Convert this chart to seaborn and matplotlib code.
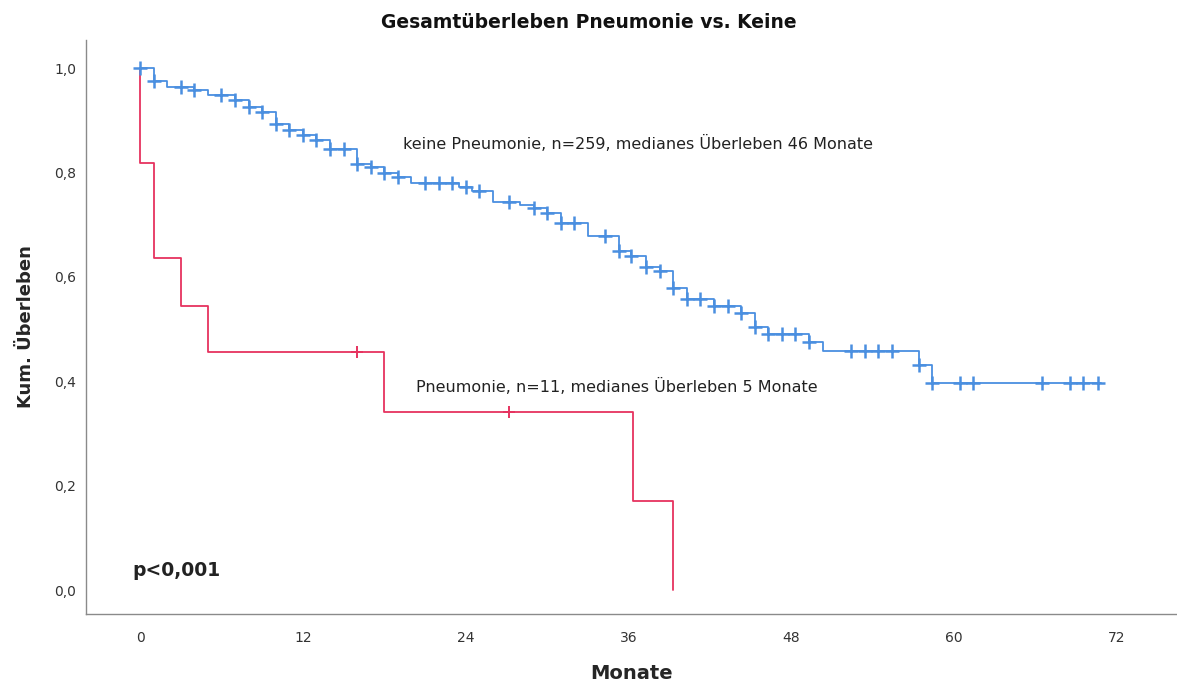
import numpy as np
import pandas as pd
import matplotlib
matplotlib.use("Agg")
import matplotlib.pyplot as plt
import seaborn as sns

# Kaplan-Meier step functions (months, cumulative survival after each step)
keine_zeit = [0.0, 1.0, 2.0, 4.0, 5.0, 7.0, 8.0, 9.0, 10.0, 11.0, 12.0, 13.0, 14.0,
              16.0, 17.0, 18.0, 19.0, 20.0, 23.5, 24.5, 26.0, 28.0, 29.0, 30.0,
              31.0, 33.0, 35.3, 36.2, 37.3, 38.3, 39.3, 40.3, 42.3, 44.3, 45.3,
              46.3, 49.3, 50.3, 57.4, 58.4, 70.8]
keine_surv = [1.000, 0.976, 0.963, 0.958, 0.948, 0.939, 0.925, 0.915, 0.893, 0.881,
              0.872, 0.862, 0.845, 0.817, 0.811, 0.798, 0.792, 0.779, 0.772, 0.765,
              0.744, 0.738, 0.731, 0.723, 0.704, 0.678, 0.650, 0.640, 0.619, 0.612,
              0.578, 0.557, 0.544, 0.531, 0.504, 0.490, 0.475, 0.457, 0.431, 0.397,
              0.397]
keine_zensiert = [0, 1, 3, 4, 6, 7, 8, 9, 10, 11, 12, 13, 14, 15, 16, 17, 18, 19, 21,
                  22, 23, 24, 25, 27.2, 29, 30, 31, 32, 34.3, 35.3, 36.2, 37.3, 38.3,
                  39.3, 40.3, 41.3, 42.3, 43.3, 44.3, 45.3, 46.3, 47.3, 48.3, 49.3,
                  52.4, 53.4, 54.4, 55.4, 57.4, 58.4, 60.4, 61.4, 66.5, 68.5, 69.5,
                  70.6]

pneu_zeit = [0.0, 0.0, 1.0, 3.0, 5.0, 18.0, 36.3, 39.3]
pneu_surv = [1.000, 0.818, 0.636, 0.545, 0.455, 0.341, 0.171, 0.000]
pneu_zensiert = [16.0, 27.2]

x_ticks = [0, 12, 24, 36, 48, 60, 72]
y_ticks = [0.0, 0.2, 0.4, 0.6, 0.8, 1.0]

BLAU = "#4A8FE0"
ROT = "#E6335F"


def surv_at(zeit, surv, t):
    idx = np.searchsorted(np.asarray(zeit), t, side="right") - 1
    return np.asarray(surv)[idx]


kurven = pd.concat([
    pd.DataFrame({"Monate": keine_zeit, "Surv": keine_surv, "Gruppe": "keine"}),
    pd.DataFrame({"Monate": pneu_zeit, "Surv": pneu_surv, "Gruppe": "pneu"}),
], ignore_index=True)

zensur = pd.concat([
    pd.DataFrame({"Monate": keine_zensiert,
                  "Surv": [surv_at(keine_zeit, keine_surv, t) for t in keine_zensiert],
                  "Gruppe": "keine"}),
    pd.DataFrame({"Monate": pneu_zensiert,
                  "Surv": [surv_at(pneu_zeit, pneu_surv, t) for t in pneu_zensiert],
                  "Gruppe": "pneu"}),
], ignore_index=True)

sns.set_theme(style="white")
plt.rcParams["font.family"] = ["DejaVu Sans"]

fig = plt.figure(figsize=(11.77, 6.83), dpi=100)
ax = fig.add_axes([0.0731, 0.101, 0.9269, 0.8404])

palette = {"keine": BLAU, "pneu": ROT}
sns.lineplot(data=kurven, x="Monate", y="Surv", hue="Gruppe", palette=palette,
             drawstyle="steps-post", estimator=None, sort=False, legend=False,
             linewidth=1.3, ax=ax)

keine_z = zensur[zensur["Gruppe"] == "keine"]
pneu_z = zensur[zensur["Gruppe"] == "pneu"]
sns.scatterplot(data=keine_z, x="Monate", y="Surv", color=BLAU, marker="+",
                s=110, linewidth=1.8, legend=False, ax=ax, zorder=3)
sns.scatterplot(data=pneu_z, x="Monate", y="Surv", color=ROT, marker="+",
                s=80, linewidth=1.4, legend=False, ax=ax, zorder=3)

ax.set_xlim(-3.98, 76.42)
ax.set_ylim(-0.046, 1.0536)
ax.set_xticks(x_ticks)
ax.set_xticklabels([str(v) for v in x_ticks], fontsize=10, color="#333333")
ax.set_yticks(y_ticks)
ax.set_yticklabels([f"{v:.1f}".replace(".", ",") for v in y_ticks],
                   fontsize=10, color="#333333")
ax.tick_params(axis="both", length=0)
ax.tick_params(axis="x", pad=12)
ax.tick_params(axis="y", pad=7)

for side in ("top", "right"):
    ax.spines[side].set_visible(False)
for side in ("left", "bottom"):
    ax.spines[side].set_color("#8a8a8a")
    ax.spines[side].set_linewidth(1.0)

ax.set_xlabel("Monate", fontsize=14, fontweight="bold", labelpad=14)
ax.set_ylabel("Kum. Überleben", fontsize=13, fontweight="bold", labelpad=14)
fig.text(0.5, 1 - 22 / 683, "Gesamtüberleben Pneumonie vs. Keine", fontsize=13.5,
         fontweight="bold", ha="center", va="center", color="#111111")

ax.text(19.38, 0.856, "keine Pneumonie, n=259, medianes Überleben 46 Monate",
        fontsize=11.5, va="center", ha="left", color="#222222")
ax.text(20.34, 0.389, "Pneumonie, n=11, medianes Überleben 5 Monate",
        fontsize=11.5, va="center", ha="left", color="#222222")
ax.text(-0.59, 0.038, "p<0,001", fontsize=13.5, fontweight="bold",
        va="center", ha="left", color="#222222")

fig.savefig("out.png", dpi=100)
